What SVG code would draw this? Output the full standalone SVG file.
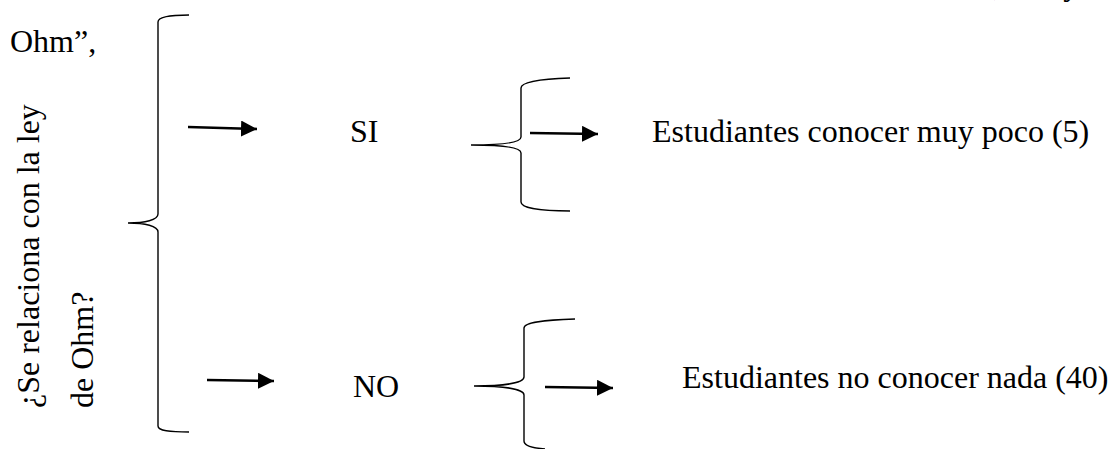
<svg xmlns="http://www.w3.org/2000/svg" width="1108" height="449" viewBox="0 0 1108 449">
  <style>
    text { font-family: 'Liberation Serif', Tinos, 'Times New Roman', 'DejaVu Serif', serif; font-size: 32px; fill: #000; }
    .brace { fill: none; stroke: #000; stroke-width: 1.4; }
    .arrow { fill: none; stroke: #000; stroke-width: 2.6; marker-end: url(#head); }
  </style>
  <defs>
    <marker id="head" markerUnits="userSpaceOnUse" markerWidth="17" markerHeight="16" refX="16" refY="8" orient="auto">
      <path d="M0,0 L16,8 L0,16 Z" fill="#000"/>
    </marker>
  </defs>
  <rect width="1108" height="449" fill="#fff"/>

  <g id="text-top">
    <text x="993" y="-5">, la ley</text>
    <text x="10" y="52">Ohm”,</text>
  </g>

  <g id="question">
    <text transform="translate(39,408) rotate(-90)">¿Se relaciona con la ley</text>
    <text transform="translate(93,408) rotate(-90)">de Ohm?</text>
  </g>

  <g id="brace-main">
    <path class="brace" d="M189,15 C170,15 158,17 158,22 L158,214 C158,220 145,223 128,223 C145,223 158,226 158,232 L158,426 C158,431 170,432 189,432"/>
  </g>

  <g id="node-si">
    <text x="350" y="142">SI</text>
  </g>
  <g id="node-no">
    <text x="353" y="397">NO</text>
  </g>

  <g id="brace-si">
    <path class="brace" d="M570,78 C540,79 521,82 521,88 L521,137 C521,143 500,145 471,145 C500,145 521,147 521,153 L521,202 C521,208 540,211 570,211"/>
  </g>
  <g id="brace-no">
    <path class="brace" d="M575,319 C545,320 524,322 524,328 L524,377 C524,383 503,386 474,386 C503,386 524,389 524,395 L524,441 C524,446 532,448 545,449"/>
  </g>

  <g id="result-si">
    <text x="652" y="142">Estudiantes conocer muy poco (5)</text>
  </g>
  <g id="result-no">
    <text x="682" y="388">Estudiantes no conocer nada (40)</text>
  </g>

  <g id="connectors">
    <line class="arrow" x1="188" y1="127" x2="257" y2="129"/>
    <line class="arrow" x1="207" y1="380" x2="274" y2="381"/>
    <line class="arrow" x1="530" y1="133" x2="598" y2="134"/>
    <line class="arrow" x1="545" y1="387" x2="613" y2="388"/>
  </g>
</svg>
